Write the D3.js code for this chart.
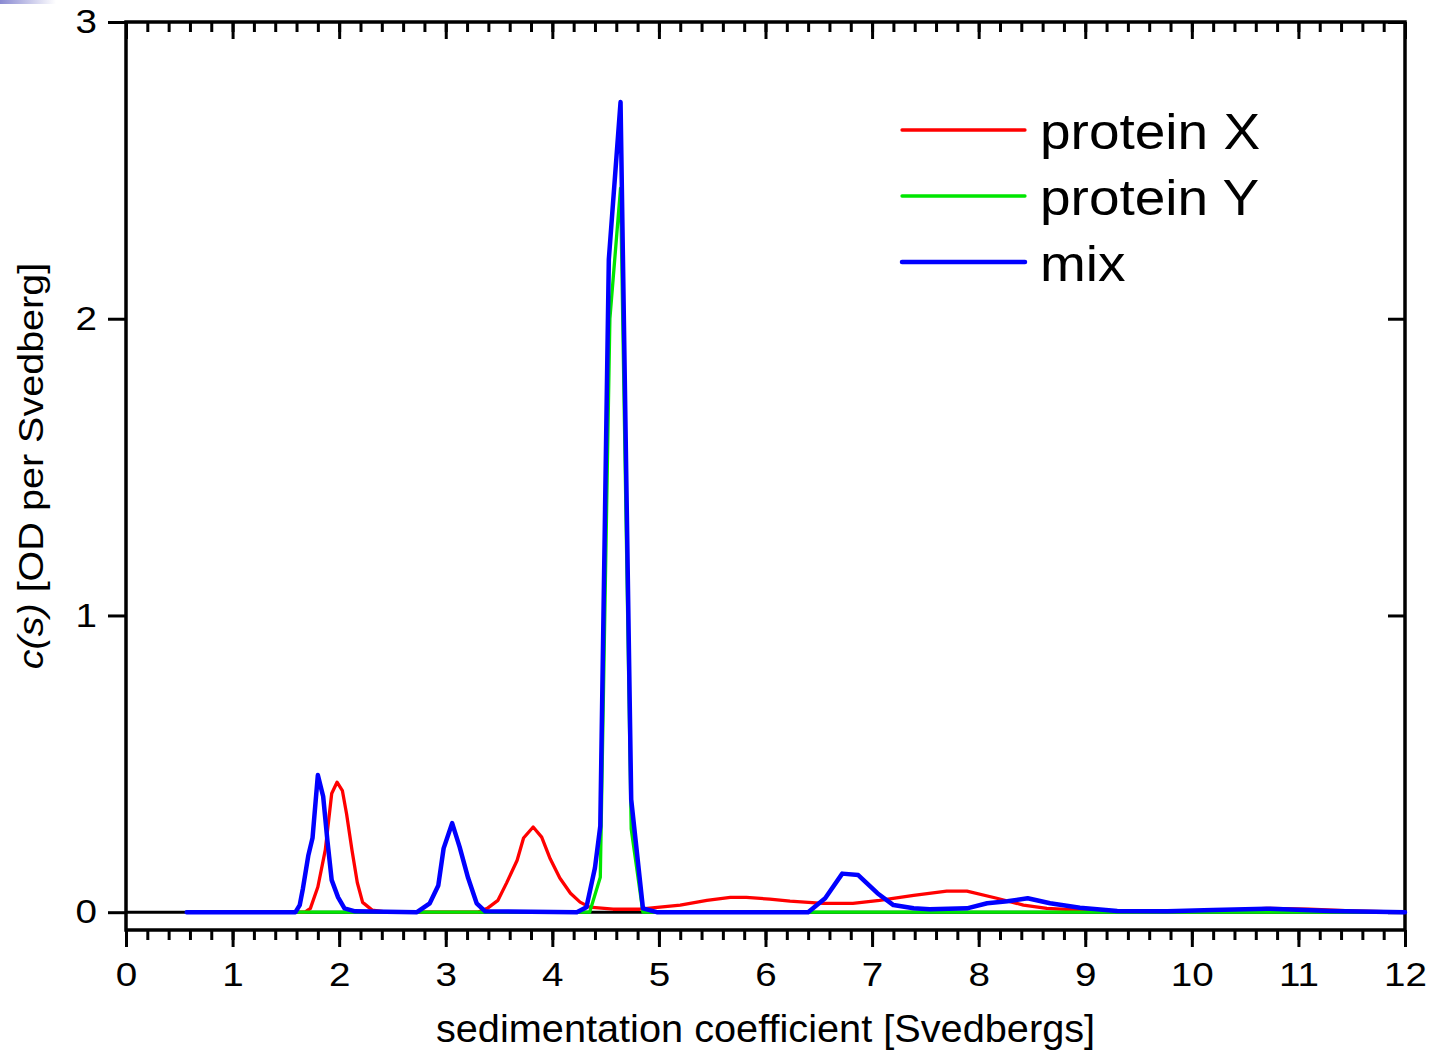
<!DOCTYPE html>
<html>
<head>
<meta charset="utf-8">
<script src="https://cdn.jsdelivr.net/npm/d3@7"></script>
<style>
  body { margin: 0; background: #fff; }
  text { font-family: "Liberation Sans", Arial, Helvetica, sans-serif; fill: #000; }
</style>
</head>
<body>
<svg id="chart" width="1429" height="1053"></svg>
<script>
// c(s) distributions: sedimentation coefficient (S) and c(s) (OD per S)
const proteinX_s = [0.57, 1.68, 1.73, 1.80, 1.87, 1.93, 1.98, 2.03, 2.07, 2.12, 2.17, 2.22, 2.31, 2.45,
  3.30, 3.39, 3.49, 3.57, 3.67, 3.73, 3.82, 3.90, 3.98, 4.07, 4.17, 4.26, 4.35, 4.57, 4.82,
  5.20, 5.45, 5.67, 5.82, 6.04, 6.23, 6.54, 6.82, 7.07, 7.39, 7.70, 7.89, 8.17, 8.42, 8.64,
  8.95, 9.30, 9.80, 10.30, 10.70, 11.10, 11.50, 12.00];
const proteinX_c = [0, 0, 0.013, 0.085, 0.21, 0.40, 0.438, 0.41, 0.33, 0.21, 0.10, 0.033, 0.007, 0,
  0, 0.013, 0.04, 0.098, 0.175, 0.25, 0.287, 0.253, 0.18, 0.115, 0.064, 0.034, 0.017, 0.01, 0.01,
  0.024, 0.04, 0.05, 0.05, 0.044, 0.037, 0.03, 0.03, 0.04, 0.057, 0.071, 0.071, 0.047, 0.024, 0.013,
  0.007, 0.003, 0.002, 0.006, 0.013, 0.01, 0.004, 0];

const proteinY_s = [0.57, 4.35, 4.45, 4.54, 4.64, 4.74, 4.85, 12.00];
const proteinY_c = [0, 0, 0.118, 2.0, 2.44, 0.28, 0, 0];

const mix_s = [0.57, 1.59, 1.63, 1.66, 1.71, 1.75, 1.80, 1.85, 1.89, 1.93, 1.99, 2.05, 2.15,
  2.73, 2.85, 2.93, 2.98, 3.06, 3.13, 3.21, 3.29, 3.37,
  4.23, 4.32, 4.40, 4.45, 4.53, 4.64, 4.74, 4.85, 4.98,
  6.40, 6.56, 6.72, 6.87, 7.05, 7.20, 7.39, 7.54, 7.89, 8.08, 8.27, 8.46, 8.67, 8.95,
  9.30, 9.77, 10.20, 10.70, 11.30, 12.00];
const mix_c = [0, 0, 0.024, 0.08, 0.19, 0.25, 0.462, 0.39, 0.24, 0.108, 0.05, 0.013, 0.003,
  0, 0.03, 0.09, 0.215, 0.30, 0.22, 0.115, 0.03, 0.003,
  0, 0.017, 0.15, 0.29, 2.20, 2.73, 0.38, 0.013, 0,
  0, 0.047, 0.13, 0.125, 0.064, 0.024, 0.013, 0.01, 0.013, 0.03, 0.037, 0.047, 0.03, 0.015,
  0.004, 0.003, 0.007, 0.012, 0.004, 0];

const seriesNames = ["protein X", "protein Y", "mix"];
const seriesColors = ["#ff0000", "#00e600", "#0000ff"];
const seriesWidths = [3.3, 3.3, 4.5];

const xMajorTicks = [0, 1, 2, 3, 4, 5, 6, 7, 8, 9, 10, 11, 12];
const xMinorStep = 0.2;
const yTicks = [0, 1, 2, 3];

const svg = d3.select("#chart");

// small banner gradient in the upper-left corner
const defs = svg.append("defs");
const grad = defs.append("linearGradient").attr("id", "corner").attr("x1", 0).attr("x2", 1);
grad.append("stop").attr("offset", 0).attr("stop-color", "#8a8ad2");
grad.append("stop").attr("offset", 1).attr("stop-color", "#ffffff");
svg.append("rect").attr("x", 0).attr("y", 0).attr("width", 56).attr("height", 4).attr("fill", "url(#corner)");

const x = d3.scaleLinear().domain([0, 12]).range([126, 1405]);
const y = d3.scaleLinear().domain([-0.06, 3]).range([930, 22]);

const xMinorTicks = d3.range(0, 12 + 1e-9, xMinorStep);

const tickScale = 1.17;

function styleAxis(g) {
  g.select(".domain").remove();
  g.selectAll(".tick line").attr("stroke", "#000").attr("stroke-width", 3);
  g.selectAll(".tick text").attr("font-size", 33);
}

// bottom axis: minor and major ticks pointing outward
svg.append("g").attr("transform", `translate(0,${y.range()[0]})`)
  .call(d3.axisBottom(x).tickValues(xMinorTicks).tickSize(10).tickFormat(""))
  .call(styleAxis);
const bottomMajor = svg.append("g").attr("transform", `translate(0,${y.range()[0]})`)
  .call(d3.axisBottom(x).tickValues(xMajorTicks).tickSize(17).tickPadding(16).tickFormat(d3.format("d")))
  .call(styleAxis);
bottomMajor.selectAll(".tick text").attr("transform", `scale(${tickScale},1)`);

// top axis: ticks pointing inward
svg.append("g").attr("transform", `translate(0,${y.range()[1]})`)
  .call(d3.axisBottom(x).tickValues(xMinorTicks).tickSize(10).tickFormat(""))
  .call(styleAxis);
svg.append("g").attr("transform", `translate(0,${y.range()[1]})`)
  .call(d3.axisBottom(x).tickValues(xMajorTicks).tickSize(17).tickFormat(""))
  .call(styleAxis);

// left axis: outward ticks with labels
const leftAxis = svg.append("g").attr("transform", `translate(${x.range()[0]},0)`)
  .call(d3.axisLeft(y).tickValues(yTicks).tickSize(18).tickPadding(11).tickFormat(d3.format("d")))
  .call(styleAxis);
leftAxis.selectAll(".tick text").attr("x", 0).attr("transform", `translate(-29,0) scale(${tickScale},1)`);

// right axis: inward ticks
svg.append("g").attr("transform", `translate(${x.range()[1]},0)`)
  .call(d3.axisLeft(y).tickValues(yTicks).tickSize(17).tickFormat(""))
  .call(styleAxis);

// plot frame
svg.append("rect")
  .attr("x", x.range()[0]).attr("y", y.range()[1])
  .attr("width", x.range()[1] - x.range()[0]).attr("height", y.range()[0] - y.range()[1])
  .attr("fill", "none").attr("stroke", "#000").attr("stroke-width", 3.5);

// zero baseline
svg.append("line")
  .attr("x1", x(0)).attr("x2", x(12)).attr("y1", y(0)).attr("y2", y(0))
  .attr("stroke", "#000").attr("stroke-width", 3);

// distributions
const series = [
  d3.zip(proteinX_s, proteinX_c),
  d3.zip(proteinY_s, proteinY_c),
  d3.zip(mix_s, mix_c)
];
const line = d3.line().x(d => x(d[0])).y(d => y(d[1]));
svg.append("g").selectAll("path").data(series).join("path")
  .attr("d", line)
  .attr("fill", "none")
  .attr("stroke", (d, i) => seriesColors[i])
  .attr("stroke-width", (d, i) => seriesWidths[i])
  .attr("stroke-linejoin", "round")
  .attr("stroke-linecap", "round");

// legend
const legend = svg.append("g").attr("transform", "translate(902,130)");
const item = legend.selectAll("g").data(seriesNames).join("g")
  .attr("transform", (d, i) => `translate(0,${i * 66})`);
item.append("line")
  .attr("x1", 0).attr("x2", 123).attr("y1", 0).attr("y2", 0)
  .attr("stroke", (d, i) => seriesColors[i])
  .attr("stroke-width", (d, i) => seriesWidths[i])
  .attr("stroke-linecap", "round");
item.append("text")
  .attr("transform", "translate(138,19) scale(1.1,1)")
  .attr("font-size", 50)
  .text(d => d);

// axis titles
svg.append("text")
  .attr("transform", `translate(${(x.range()[0] + x.range()[1]) / 2},1042) scale(1.045,1)`)
  .attr("text-anchor", "middle")
  .attr("font-size", 38)
  .text("sedimentation coefficient [Svedbergs]");

const yTitle = svg.append("text")
  .attr("transform", "translate(43,466) rotate(-90) scale(1.13,1)")
  .attr("text-anchor", "middle")
  .attr("font-size", 35);
yTitle.append("tspan").attr("font-style", "italic").text("c(s)");
yTitle.append("tspan").text(" [OD per Svedberg]");
</script>
</body>
</html>
